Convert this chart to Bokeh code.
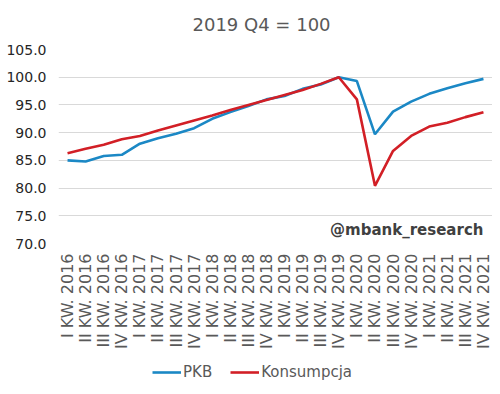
from bokeh.plotting import figure
from bokeh.models import (FactorRange, FixedTicker, PrintfTickFormatter, Label,
                          Legend, LegendItem)
from bokeh.layouts import column
from bokeh.embed import file_html
from bokeh.resources import INLINE
import math

quarters = ["I KW. 2016", "II KW. 2016", "III KW. 2016", "IV KW. 2016",
            "I KW. 2017", "II KW. 2017", "III KW. 2017", "IV KW. 2017",
            "I KW. 2018", "II KW. 2018", "III KW. 2018", "IV KW. 2018",
            "I KW. 2019", "II KW. 2019", "III KW. 2019", "IV KW. 2019",
            "I KW. 2020", "II KW. 2020", "III KW. 2020", "IV KW. 2020",
            "I KW. 2021", "II KW. 2021", "III KW. 2021", "IV KW. 2021"]

pkb = [85.0, 84.8, 85.8, 86.0, 88.0, 89.0, 89.8, 90.8,
       92.5, 93.7, 94.8, 96.0, 96.6, 97.9, 98.7, 100.0,
       99.3, 89.7, 93.8, 95.6, 97.0, 98.0, 98.9, 99.7]

konsumpcja = [86.3, 87.1, 87.8, 88.8, 89.4, 90.4, 91.3, 92.2,
              93.1, 94.1, 95.0, 95.9, 96.8, 97.7, 98.8, 100.0,
              96.0, 80.4, 86.7, 89.4, 91.1, 91.8, 92.8, 93.7]

y_ticks = [70, 75, 80, 85, 90, 95, 100, 105]
series_names = ["PKB", "Konsumpcja"]
series_colors = ["#1b88c5", "#d21f26"]

FONT = "DejaVu Sans"
GREY = "#595959"

p = figure(width=492, height=358, x_range=FactorRange(*quarters),
           y_range=(70, 105), output_backend="svg", toolbar_location=None,
           min_border_left=58, min_border_right=0, min_border_top=49,
           min_border_bottom=115, outline_line_color=None,
           title="2019 Q4 = 100")

p.title.align = "left"
p.title.offset = 134
p.title.vertical_align = "top"
p.title.text_font = FONT
p.title.text_font_size = "18px"
p.title.text_font_style = "normal"
p.title.text_color = GREY
p.title.standoff = 25

p.line(quarters, pkb, line_color=series_colors[0], line_width=2.6)
p.line(quarters, konsumpcja, line_color=series_colors[1], line_width=2.6)

p.yaxis.ticker = FixedTicker(ticks=y_ticks)
p.yaxis.formatter = PrintfTickFormatter(format="%.1f")
for ax in (p.xaxis, p.yaxis):
    ax.axis_line_color = None
    ax.major_tick_line_color = None
    ax.minor_tick_line_color = None
    ax.major_tick_out = 0
    ax.major_label_text_font = FONT
    ax.major_label_text_color = GREY
p.yaxis.major_label_text_font_size = "14px"
p.yaxis.major_label_text_color = "#262626"
p.yaxis.major_label_standoff = 12
p.xaxis.major_label_text_font_size = "16px"
p.xaxis.major_label_orientation = math.pi / 2
p.xaxis.major_label_standoff = 10

p.xgrid.grid_line_color = None
p.ygrid.grid_line_color = "#d9d9d9"
p.ygrid.grid_line_width = 1
p.ygrid.ticker = FixedTicker(ticks=y_ticks)

wm = Label(x=23.5, y=72.35, text="@mbank_research", text_align="right",
           text_baseline="middle", text_font=FONT, text_font_size="15px",
           text_font_style="bold", text_color="#404040")
p.add_layout(wm)

# legend strip below the chart (series drawn out of view, only legend shows)
lg = figure(width=492, height=36, output_backend="svg", toolbar_location=None,
            min_border=0, outline_line_color=None, x_range=(0, 1), y_range=(0, 1))
lg.axis.visible = False
lg.grid.visible = False
items = []
for name, col, vals in zip(series_names, series_colors, [pkb, konsumpcja]):
    rr = lg.line(x=list(range(len(vals))), y=vals, line_color=col, line_width=2.6)
    items.append(LegendItem(label=name, renderers=[rr]))
legend = Legend(items=items, orientation="horizontal", location=(94, 12),
                padding=0, margin=0, spacing=18, label_standoff=2,
                glyph_width=29, glyph_height=20, label_height=20,
                label_text_font=FONT, label_text_font_size="15px",
                label_text_color=GREY, border_line_color=None,
                background_fill_alpha=0)
lg.add_layout(legend, "center")

layout = column(p, lg, spacing=0)
open("out.html", "w").write(file_html(layout, INLINE))
